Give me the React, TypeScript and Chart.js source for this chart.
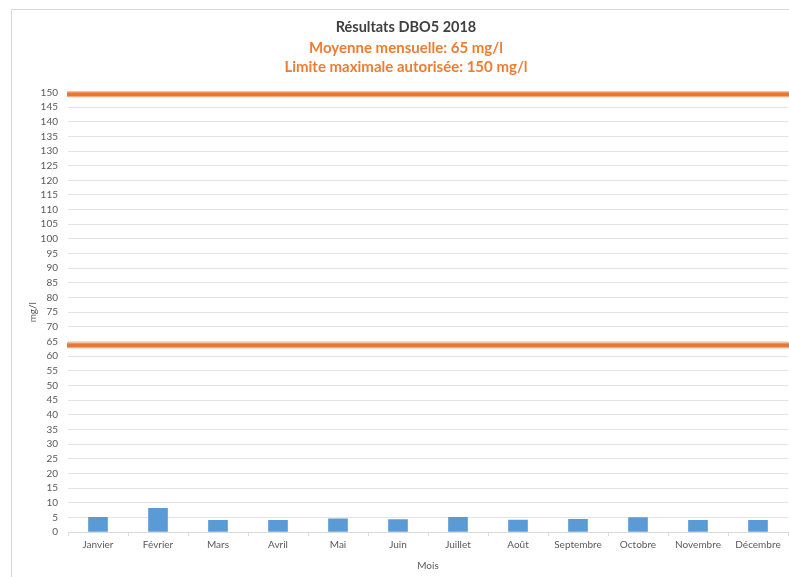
import React, { useEffect, useRef } from "react";
import { Chart, registerables } from "chart.js";

Chart.register(...registerables);

const months = ["Janvier", "Février", "Mars", "Avril", "Mai", "Juin", "Juillet", "Août", "Septembre", "Octobre", "Novembre", "Décembre"];
const dbo5Values = [5.0, 8.1, 4.0, 4.0, 4.5, 4.2, 5.0, 4.1, 4.3, 4.9, 4.0, 4.0];
const limitLines = [149.4, 63.7];
const titleText = "Résultats DBO5 2018";
const subtitleLines = ["Moyenne mensuelle: 65 mg/l", "Limite maximale autorisée: 150 mg/l"];

const FONT = "Lato, 'Open Sans', sans-serif";
const CANVAS_W = 812;
const CANVAS_H = 577;
const SIDE_PAD = 24;

const refLinesPlugin = {
  id: "refLines",
  afterDatasetsDraw(chart: any) {
    const { ctx, chartArea, scales } = chart;
    const y = scales.y;
    ctx.save();
    limitLines.forEach((v) => {
      const py = y.getPixelForValue(v);
      ctx.beginPath();
      ctx.moveTo(chartArea.left - 1, py);
      ctx.lineTo(chart.width, py);
      ctx.lineWidth = 6;
      ctx.strokeStyle = "#F3AC7E";
      ctx.stroke();
      ctx.beginPath();
      ctx.moveTo(chartArea.left - 1, py);
      ctx.lineTo(chart.width, py);
      ctx.lineWidth = 3.5;
      ctx.strokeStyle = "#EB7632";
      ctx.stroke();
    });
    ctx.restore();
  },
};

export default function App() {
  const ref = useRef<HTMLCanvasElement | null>(null);

  useEffect(() => {
    if (!ref.current) return;
    const chart = new Chart(ref.current, {
      type: "bar",
      data: {
        labels: months,
        datasets: [
          {
            label: "DBO5",
            data: dbo5Values,
            backgroundColor: "#5B9BD5",
            borderWidth: 0,
            barThickness: 19,
          },
        ],
      },
      options: {
        responsive: false,
        animation: false,
        devicePixelRatio: 1,
        layout: { padding: { left: SIDE_PAD, right: SIDE_PAD, top: 0, bottom: 0 } },
        plugins: {
          legend: { display: false },
          tooltip: { enabled: false },
          title: {
            display: true,
            text: titleText,
            color: "#404040",
            font: { family: FONT, size: 14.5, weight: "bold", lineHeight: 1.2 },
            padding: { top: 19, bottom: 2 },
          },
          subtitle: {
            display: true,
            text: subtitleLines,
            color: "#ED7D31",
            font: { family: FONT, size: 15, weight: "bold", lineHeight: 19 / 15 },
            padding: { top: 0, bottom: 16 },
          },
        },
        scales: {
          x: {
            offset: true,
            grid: {
              display: true,
              drawOnChartArea: false,
              drawTicks: true,
              tickLength: 4,
              color: "#d9d9d9",
              offset: true,
            },
            border: { display: true, color: "#d9d9d9" },
            ticks: {
              color: "#595959",
              font: { family: FONT, size: 10 },
              padding: 3,
              maxRotation: 0,
              autoSkip: false,
            },
            title: {
              display: true,
              text: "Mois",
              color: "#595959",
              font: { family: FONT, size: 10, lineHeight: 1.2 },
              padding: { top: 0, bottom: 5 },
            },
            afterFit(scale: any) {
              scale.height = 45;
            },
          },
          y: {
            min: 0,
            max: 150,
            grid: { color: "#e3e3e3", drawTicks: false, lineWidth: 1 },
            border: { display: false },
            ticks: {
              stepSize: 5,
              autoSkip: false,
              color: "#595959",
              font: { family: FONT, size: 10 },
              padding: 10,
            },
            title: {
              display: true,
              text: "mg/l",
              color: "#595959",
              font: { family: FONT, size: 10, lineHeight: 1.2 },
              padding: { top: 3, bottom: 0 },
            },
            afterFit(scale: any) {
              scale.width = 68 - SIDE_PAD;
            },
          },
        },
      },
      plugins: [refLinesPlugin],
    });
    return () => chart.destroy();
  }, []);

  return (
    <div
      style={{
        position: "fixed",
        left: 0,
        top: 0,
        width: 789,
        height: 577,
        overflow: "hidden",
        background: "#ffffff",
      }}
    >
      <div
        style={{
          position: "absolute",
          left: 11,
          top: 9,
          width: 800,
          height: 600,
          borderLeft: "1px solid #d9d9d9",
          borderTop: "1px solid #d9d9d9",
        }}
      />
      <canvas
        ref={ref}
        width={CANVAS_W}
        height={CANVAS_H}
        style={{ position: "absolute", left: 0, top: 0, width: CANVAS_W, height: CANVAS_H }}
      />
    </div>
  );
}
